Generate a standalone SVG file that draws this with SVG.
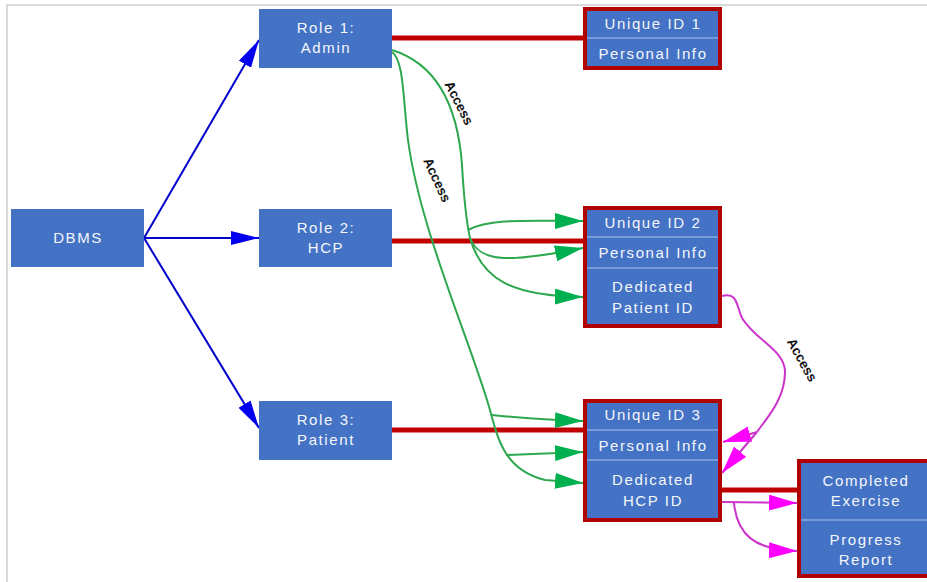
<svg xmlns="http://www.w3.org/2000/svg" width="927" height="582" viewBox="0 0 927 582">
<defs>
<style>
.role{fill:#4472C4}
.rec{fill:#4472C4;stroke:#B00000;stroke-width:4}
.div{stroke:#A9C4EB;stroke-width:1.2}
.t{font-family:"Liberation Sans",Arial,sans-serif;font-size:15px;fill:#F4F7FC;text-anchor:middle;letter-spacing:1.6px}
.lbl{font-family:"Liberation Sans",Arial,sans-serif;font-size:13.5px;font-weight:bold;fill:#111111;text-anchor:middle;dominant-baseline:central}
.blue{fill:none;stroke:#0000CC;stroke-width:2}
.red{fill:none;stroke:#C00000;stroke-width:5}
.green{fill:none;stroke:#2EA84E;stroke-width:2}
.mag{fill:none;stroke:#CC33CC;stroke-width:2}
</style>
<marker id="ab" markerUnits="userSpaceOnUse" markerWidth="30" markerHeight="14" refX="28" refY="7" orient="auto"><path d="M0,0 L28,7 L0,14 z" fill="#0000EE"/></marker>
<marker id="ag" markerUnits="userSpaceOnUse" markerWidth="30" markerHeight="16" refX="28" refY="8" orient="auto"><path d="M0,0 L28,8 L0,16 z" fill="#00B050"/></marker>
<marker id="am" markerUnits="userSpaceOnUse" markerWidth="30" markerHeight="16" refX="28" refY="8" orient="auto"><path d="M0,0 L28,8 L0,16 z" fill="#FF00FF"/></marker>
</defs>
<rect width="927" height="582" fill="#FFFFFF"/>
<path d="M7,582 L7,5 L927,5" fill="none" stroke="#D9D9D9" stroke-width="2"/>

<g id="connectors">
<path class="blue" d="M144,238 L259,40" marker-end="url(#ab)"/>
<path class="blue" d="M144,238 L259,238" marker-end="url(#ab)"/>
<path class="blue" d="M144,238 L259,428" marker-end="url(#ab)"/>
<path class="red" d="M392,38 L583,38"/>
<path class="red" d="M392,241 L583,241"/>
<path class="red" d="M392,430 L583,430"/>
<path class="red" d="M722,490 L797,490"/>
<path class="green" d="M392,50 C440,65 458,110 462,165 C464,200 466,220 470,238"/>
<path class="green" d="M468,230 C490,218 530,221 583,221" marker-end="url(#ag)"/>
<path class="green" d="M470,238 C480,264 512,262 583,248" marker-end="url(#ag)"/>
<path class="green" d="M470,238 C482,280 512,296 583,297" marker-end="url(#ag)"/>
<path class="green" d="M392,52 C404,60 403,100 408,140 C420,230 470,340 490,410 C498,440 505,470 545,480 L583,483" marker-end="url(#ag)"/>
<path class="green" d="M492,415 C520,418 550,420 583,421" marker-end="url(#ag)"/>
<path class="green" d="M506,455 L583,452" marker-end="url(#ag)"/>
<path class="mag" d="M722,296 C738,292 736,305 742,318 C755,340 785,350 785,372 C785,400 765,420 757,432"/>
<path class="mag" d="M757,432 L723,442" marker-end="url(#am)"/>
<path class="mag" d="M757,432 L722,473" marker-end="url(#am)"/>
<path class="mag" d="M722,502 L797,503" marker-end="url(#am)"/>
<path class="mag" d="M734,503 C737,535 755,550 797,551" marker-end="url(#am)"/>
<text class="lbl" transform="translate(459,103) rotate(63)">Access</text>
<text class="lbl" transform="translate(437,180) rotate(65)">Access</text>
<text class="lbl" transform="translate(802,360) rotate(61)">Access</text>
</g>

<g id="dbms">
<rect class="role" x="11" y="209" width="133" height="58"/>
<text class="t" x="78" y="243">DBMS</text>
</g>
<g id="role1">
<rect class="role" x="259" y="9" width="133" height="59"/>
<text class="t" x="326" y="33">Role 1:</text>
<text class="t" x="326" y="53">Admin</text>
</g>
<g id="role2">
<rect class="role" x="259" y="209" width="133" height="58"/>
<text class="t" x="326" y="233">Role 2:</text>
<text class="t" x="326" y="253">HCP</text>
</g>
<g id="role3">
<rect class="role" x="259" y="401" width="133" height="59"/>
<text class="t" x="326" y="425">Role 3:</text>
<text class="t" x="326" y="445">Patient</text>
</g>
<g id="record1">
<rect class="rec" x="585" y="9" width="135" height="59"/>
<line class="div" x1="587" y1="38" x2="718" y2="38"/>
<text class="t" x="653" y="29">Unique ID 1</text>
<text class="t" x="653" y="59">Personal Info</text>
</g>
<g id="record2">
<rect class="rec" x="585" y="208" width="135" height="118"/>
<line class="div" x1="587" y1="237" x2="718" y2="237"/>
<line class="div" x1="587" y1="268" x2="718" y2="268"/>
<text class="t" x="653" y="228">Unique ID 2</text>
<text class="t" x="653" y="258">Personal Info</text>
<text class="t" x="653" y="292">Dedicated</text>
<text class="t" x="653" y="313">Patient ID</text>
</g>
<g id="record3">
<rect class="rec" x="585" y="401" width="135" height="119"/>
<line class="div" x1="587" y1="430" x2="718" y2="430"/>
<line class="div" x1="587" y1="460" x2="718" y2="460"/>
<text class="t" x="653" y="420">Unique ID 3</text>
<text class="t" x="653" y="451">Personal Info</text>
<text class="t" x="653" y="485">Dedicated</text>
<text class="t" x="653" y="506">HCP ID</text>
</g>
<g id="progress">
<rect class="rec" x="799" y="461" width="135" height="115"/>
<line class="div" x1="801" y1="520" x2="932" y2="520"/>
<text class="t" x="866" y="486">Completed</text>
<text class="t" x="866" y="506">Exercise</text>
<text class="t" x="866" y="545">Progress</text>
<text class="t" x="866" y="565">Report</text>
</g>
</svg>
